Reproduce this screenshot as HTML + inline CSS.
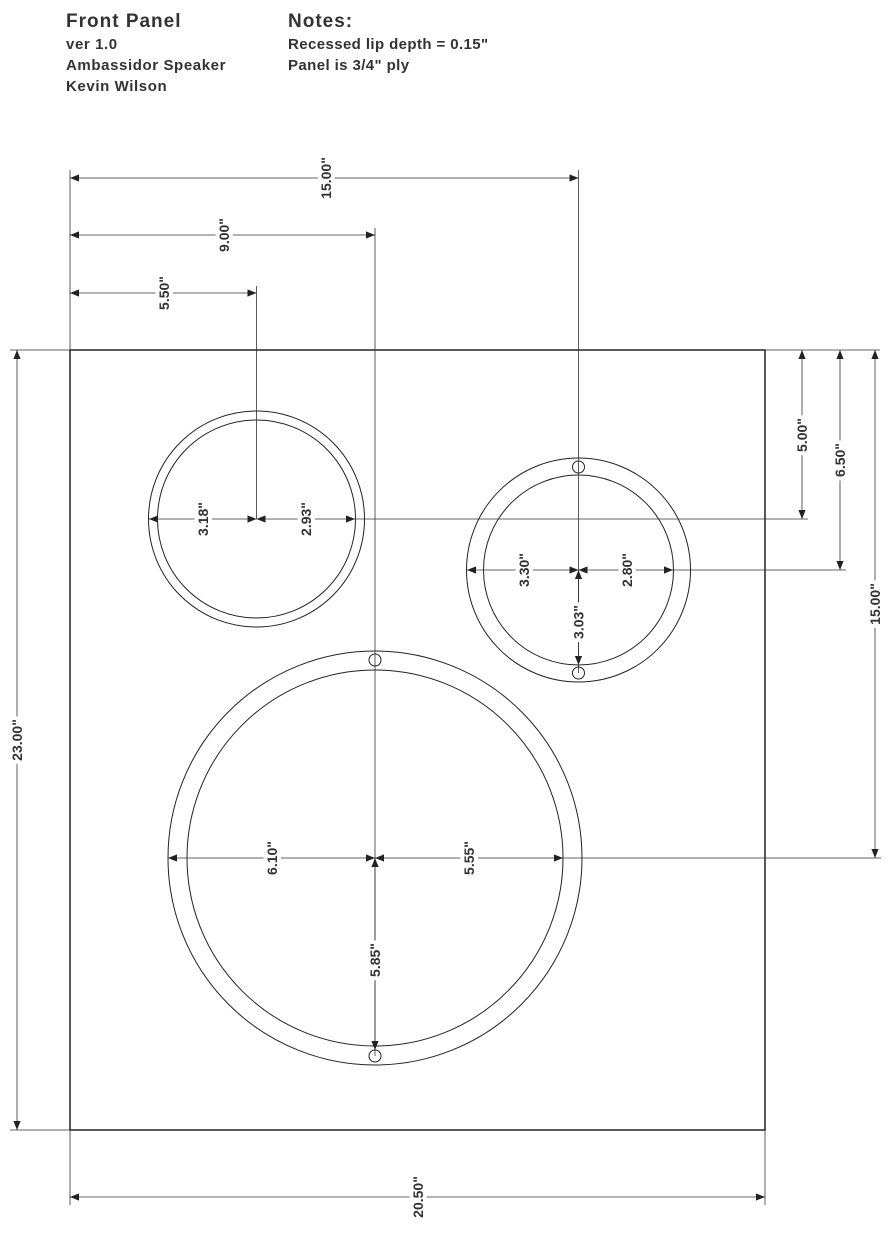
<!DOCTYPE html>
<html><head><meta charset="utf-8"><style>
html,body{margin:0;padding:0;background:#fff;}
svg{display:block;}
.h{font-family:"Liberation Sans",sans-serif;font-weight:bold;fill:#333;}
.l{font-family:"Liberation Sans",sans-serif;font-size:14px;font-weight:bold;fill:#333;paint-order:stroke;stroke:#fff;stroke-width:8px;stroke-linejoin:round;}
</style></head><body>
<svg width="891" height="1233" viewBox="0 0 891 1233" xmlns="http://www.w3.org/2000/svg">
<defs>
<marker id="a" viewBox="0 0 10 10" refX="10" refY="5" markerWidth="9" markerHeight="9" markerUnits="userSpaceOnUse" orient="auto-start-reverse"><path d="M0,1 L10,5 L0,9 z" fill="#222"/></marker>
</defs>
<text class="h" x="66" y="27" font-size="19" letter-spacing="1">Front Panel</text>
<text class="h" x="66" y="49" font-size="15" letter-spacing="0.6">ver 1.0</text>
<text class="h" x="66" y="70" font-size="15" letter-spacing="0.6">Ambassidor Speaker</text>
<text class="h" x="66" y="91" font-size="15" letter-spacing="0.6">Kevin Wilson</text>
<text class="h" x="288" y="27" font-size="19" letter-spacing="1">Notes:</text>
<text class="h" x="288" y="49" font-size="15" letter-spacing="0.4">Recessed lip depth = 0.15"</text>
<text class="h" x="288" y="70" font-size="15" letter-spacing="0.4">Panel is 3/4" ply</text>

<g fill="none" stroke="#222" stroke-width="1">
<rect x="70" y="350" width="695" height="780" stroke-width="1.5"/>
<circle cx="256.5" cy="519" r="108"/><circle cx="256.5" cy="519" r="99"/>
<circle cx="578.5" cy="570" r="112"/><circle cx="578.5" cy="570" r="95"/>
<circle cx="578.5" cy="467" r="6"/><circle cx="578.5" cy="673" r="6"/>
<circle cx="375" cy="858" r="207"/><circle cx="375" cy="858" r="188"/>
<circle cx="375" cy="660" r="6"/><circle cx="375" cy="1056" r="6"/>
</g>
<g stroke="#333" stroke-width="0.8" fill="none">
<line x1="70" y1="170" x2="70" y2="350"/>
<line x1="578.5" y1="170" x2="578.5" y2="673"/>
<line x1="375" y1="228" x2="375" y2="1056"/>
<line x1="256.5" y1="286" x2="256.5" y2="519"/>
<line x1="765" y1="350" x2="880" y2="350"/>
<line x1="355" y1="519" x2="808" y2="519"/>
<line x1="672" y1="570" x2="846" y2="570"/>
<line x1="563" y1="858" x2="881" y2="858"/>
<line x1="10" y1="350" x2="70" y2="350"/>
<line x1="10" y1="1130" x2="70" y2="1130"/>
<line x1="70" y1="1130" x2="70" y2="1205"/>
<line x1="765" y1="1130" x2="765" y2="1205"/>
</g>
<g stroke="#333" stroke-width="0.8" marker-start="url(#a)" marker-end="url(#a)">
<line x1="70" y1="178" x2="578.5" y2="178"/>
<line x1="70" y1="235" x2="375" y2="235"/>
<line x1="70" y1="293" x2="256.5" y2="293"/>
<line x1="802" y1="350" x2="802" y2="519"/>
<line x1="840" y1="350" x2="840" y2="570"/>
<line x1="875" y1="350" x2="875" y2="858"/>
<line x1="17" y1="350" x2="17" y2="1130"/>
<line x1="70" y1="1197" x2="765" y2="1197"/>
<line x1="149" y1="519" x2="256.5" y2="519"/>
<line x1="256.5" y1="519" x2="355" y2="519"/>
<line x1="467" y1="570" x2="578.5" y2="570"/>
<line x1="578.5" y1="570" x2="673" y2="570"/>
<line x1="578.5" y1="570" x2="578.5" y2="665"/>
<line x1="168" y1="858" x2="375" y2="858"/>
<line x1="375" y1="858" x2="563" y2="858"/>
<line x1="375" y1="858" x2="375" y2="1050"/>
</g>
<g class="l" text-anchor="middle" dominant-baseline="central">
<text transform="translate(326,178) rotate(-90)">15.00"</text>
<text transform="translate(224,235) rotate(-90)">9.00"</text>
<text transform="translate(164,293) rotate(-90)">5.50"</text>
<text transform="translate(802,435) rotate(-90)">5.00"</text>
<text transform="translate(840,460) rotate(-90)">6.50"</text>
<text transform="translate(875,604) rotate(-90)">15.00"</text>
<text transform="translate(17,740) rotate(-90)">23.00"</text>
<text transform="translate(418,1197) rotate(-90)">20.50"</text>
<text transform="translate(203,519) rotate(-90)">3.18"</text>
<text transform="translate(306,519) rotate(-90)">2.93"</text>
<text transform="translate(524,570) rotate(-90)">3.30"</text>
<text transform="translate(627,570) rotate(-90)">2.80"</text>
<text transform="translate(578.5,622) rotate(-90)">3.03"</text>
<text transform="translate(272,858) rotate(-90)">6.10"</text>
<text transform="translate(469,858) rotate(-90)">5.55"</text>
<text transform="translate(375,960) rotate(-90)">5.85"</text>
</g>
</svg>
</body></html>
